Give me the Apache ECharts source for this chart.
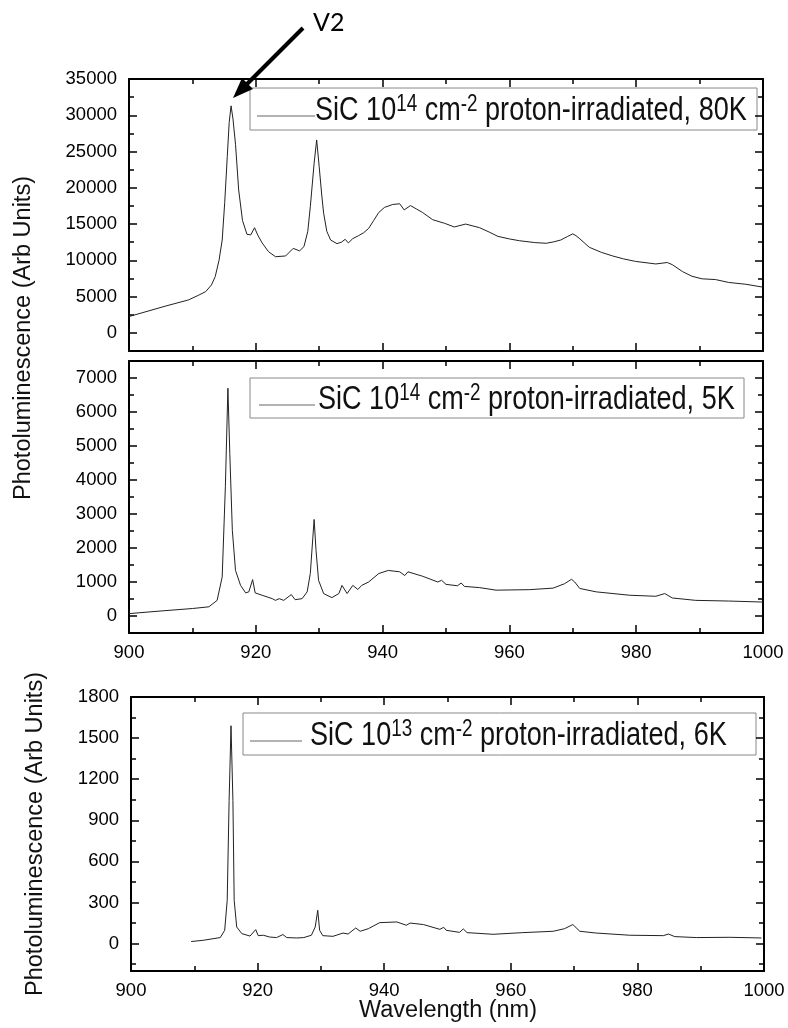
<!DOCTYPE html>
<html>
<head>
<meta charset="utf-8">
<script src="https://cdn.jsdelivr.net/npm/echarts@6/dist/echarts.min.js"></script>
<style>
  html, body { margin: 0; padding: 0; background: #fff; }
  #main { width: 788px; height: 1028px; }
</style>
</head>
<body>
<div id="main"></div>
<script>
// spectra: wavelength (nm) / PL intensity (arb. units)
var wl80K = [900, 903, 906, 909, 909.4, 911, 912.1, 913, 913.6, 914.2, 914.7, 915.1, 915.5, 915.8, 916.1, 916.4, 916.8, 917.3, 917.9, 918.6,
  919.2, 919.8, 920.3, 921, 922, 923.1, 924.7, 925.9, 926.9, 927.6, 928.2, 928.6, 929.2, 929.6, 930, 930.4, 930.7, 931.2, 931.8, 932.8,
  933.5, 934.1, 934.6, 935.3, 936.2, 937, 937.8, 938.6, 939.4, 940.3, 941.6, 942.7, 943.4, 944.4, 945.3, 946.3, 947.9, 949.8, 951.3, 953.1,
  955.3, 956.8, 958.2, 960, 961.6, 964, 965.8, 967, 968.1, 969.2, 970, 970.5, 971, 972.6, 974.5, 976.3, 978, 979.9, 983.1, 984.9,
  985.7, 987.3, 988.8, 990.4, 992.5, 994.6, 997.3, 1000];
var pl80K = [2250, 3000, 3750, 4450, 4550, 5200, 5690, 6600, 7760, 10000, 12800, 18000, 24300, 29000, 31300, 29500, 26000, 19700, 15500, 13600,
  13500, 14500, 13500, 12400, 11200, 10500, 10600, 11650, 11300, 11900, 14000, 17400, 23400, 26600, 22900, 19000, 16500, 14000, 12800, 12300,
  12500, 12900, 12400, 13000, 13400, 13800, 14400, 15500, 16600, 17300, 17700, 17800, 16950, 17550, 17100, 16600, 15600, 15100, 14600, 15000,
  14500, 13900, 13300, 12950, 12700, 12450, 12350, 12550, 12800, 13300, 13650, 13400, 13050, 11800, 11100, 10600, 10200, 9850, 9500, 9700,
  9400, 8450, 7800, 7450, 7350, 6950, 6700, 6300];

var wl5K = [900, 905.2, 910, 912.6, 913.9, 914.7, 915.2, 915.6, 915.9, 916.3, 916.8, 917.6, 918.4, 918.9, 919.5, 919.9, 921, 922.6, 923.1, 923.7,
  924.4, 925.6, 926.2, 927.3, 928.1, 928.6, 929, 929.2, 929.5, 929.9, 930.7, 932, 933.1, 933.6, 934.4, 935.3, 936.1, 936.7, 937.8, 939.4,
  940.9, 942.7, 943.5, 944, 946.3, 948.7, 949.3, 950, 951.8, 952.4, 952.9, 955.3, 957.9, 963.2, 966.9, 968.7, 969.8, 970.3, 971.1, 973.7,
  979, 983.1, 984.5, 985.7, 989.4, 994.6, 1000];
var pl5K = [70, 150, 220, 270, 460, 1150, 3800, 6700, 4780, 2520, 1340, 900, 680, 710, 1070, 680, 610, 510, 460, 510,
  460, 630, 480, 510, 710, 1250, 2320, 2840, 1930, 1050, 660, 540, 660, 900, 660, 900, 780, 900, 1000, 1250,
  1340, 1300, 1190, 1300, 1170, 1000, 1050, 930, 890, 970, 870, 835, 760, 775, 820, 950, 1080, 1000, 810, 710,
  610, 580, 660, 530, 460, 440, 410];

var wl6K = [909.5, 911.4, 914.1, 914.8, 915.2, 915.5, 915.8, 916.1, 916.3, 916.7, 917.5, 918.8, 919.7, 920.1, 920.9, 921.9, 923, 924, 924.6, 926.2,
  927.3, 928.5, 929.1, 929.5, 929.8, 930.3, 931.9, 933.5, 934.3, 935.5, 936.2, 937.5, 939.3, 942, 943.5, 944.1, 946.2, 948.8, 949.4, 949.8,
  951.9, 952.5, 953.1, 957.2, 961.9, 966.7, 968.5, 969.8, 970.9, 973.5, 978.8, 984.1, 984.9, 985.9, 989.3, 994.6, 999.6];
var pl6K = [15, 24, 44, 97, 316, 1046, 1590, 1046, 316, 121, 73, 55, 102, 58, 61, 48, 44, 66, 44, 41,
  44, 61, 121, 243, 97, 58, 53, 77, 70, 114, 90, 109, 153, 158, 134, 150, 139, 104, 119, 97,
  82, 107, 80, 68, 80, 90, 109, 139, 90, 77, 61, 58, 70, 51, 44, 46, 41];

var names = [
  'SiC 10^14 cm^-2 proton-irradiated, 80K',
  'SiC 10^14 cm^-2 proton-irradiated, 5K',
  'SiC 10^13 cm^-2 proton-irradiated, 6K'
];

// tick values
var yMajor80K = [0, 5000, 10000, 15000, 20000, 25000, 30000, 35000];
var yMinor80K = [2500, 7500, 12500, 17500, 22500, 27500, 32500];
var yMajor5K = [0, 1000, 2000, 3000, 4000, 5000, 6000, 7000];
var yMinor5K = [500, 1500, 2500, 3500, 4500, 5500, 6500];
var yMajor6K = [0, 300, 600, 900, 1200, 1500, 1800];
var yMinor6K = [-150, 150, 450, 750, 1050, 1350, 1650];

var yTitle = 'Photoluminescence (Arb Units)';
var xTitle = 'Wavelength (nm)';

var AX = '#000';
var SANS = '"Liberation Sans", Arial, sans-serif';
var LABEL_FONT = {
  fontFamily: 'Liberation Sans, Arial, sans-serif', fontSize: 18.5, color: '#000',
  formatter: function (v) { return String(v); }
};

function pairs(xs, ys) {
  return xs.map(function (x, i) { return [x, ys[i]]; });
}

function xAxisPair(grid, showLabels) {
  var common = {
    gridIndex: grid, type: 'value', min: 900, max: 1000, interval: 20,
    axisLine: { show: true, onZero: false, lineStyle: { color: AX, width: 2 } },
    axisTick: { show: true, inside: true, length: 8, lineStyle: { color: AX, width: 1.5 } },
    minorTick: { show: true, splitNumber: 2, length: 5, lineStyle: { color: AX, width: 1.5 } },
    splitLine: { show: false }
  };
  var bottom = Object.assign({}, common, {
    position: 'bottom',
    axisLabel: Object.assign({ show: showLabels, margin: 10 }, LABEL_FONT)
  });
  var top = Object.assign({}, common, { position: 'top', axisLabel: { show: false } });
  return [bottom, top];
}

function yAxisSet(grid, min, max, major, minor) {
  function ax(pos, vals, len, line, labels) {
    return {
      gridIndex: grid, type: 'value', min: min, max: max, position: pos,
      axisLine: { show: line, onZero: false, lineStyle: { color: AX, width: 2 } },
      axisTick: { show: true, inside: true, length: len, customValues: vals, lineStyle: { color: AX, width: 1.5 } },
      axisLabel: labels ? Object.assign({ show: true, margin: 12, customValues: vals }, LABEL_FONT) : { show: false },
      splitLine: { show: false }
    };
  }
  return [
    ax('left', major, 8, true, true),
    ax('left', minor, 5, false, false),
    ax('right', major, 8, true, false),
    ax('right', minor, 5, false, false)
  ];
}

// legend box in the Origin style: narrow tall text with superscripts
function legendBox(i, box, line, text) {
  var rich = names[i].replace(/\^(\S+)/g, '{s|$1}');
  return {
    type: 'group', x: box[0], y: box[1],
    children: [
      { type: 'rect', shape: { x: 0, y: 0, width: box[2], height: box[3] },
        style: { fill: '#fff', stroke: '#888', lineWidth: 1 } },
      { type: 'line', shape: { x1: line[0], y1: line[2], x2: line[1], y2: line[2] },
        style: { stroke: '#666', lineWidth: 1 } },
      { type: 'text', x: text[0], y: text[1], scaleX: 0.82,
        style: {
          text: rich, fontFamily: SANS, fontSize: 33, lineHeight: 36, fill: '#111',
          align: 'left', verticalAlign: 'middle',
          rich: { s: { fontFamily: SANS, fontSize: 23, lineHeight: 20, verticalAlign: 'top', fill: '#111' } }
        } }
    ]
  };
}

function lineSeries(i, xi, yi, wl, pl) {
  return {
    type: 'line', name: names[i], xAxisIndex: xi, yAxisIndex: yi,
    data: pairs(wl, pl),
    symbol: 'none', showSymbol: false,
    lineStyle: { color: '#222', width: 1 },
    itemStyle: { color: '#555' }
  };
}

var myChart = echarts.init(document.getElementById('main'), null, { renderer: 'canvas' });

var option = {
  backgroundColor: '#fff',
  animation: false,
  grid: [
    { left: 129, top: 79, width: 634, height: 272 },
    { left: 129, top: 361, width: 634, height: 272 },
    { left: 131, top: 697, width: 633, height: 274 }
  ],
  xAxis: [].concat(xAxisPair(0, false), xAxisPair(1, true), xAxisPair(2, true)),
  yAxis: [].concat(
    yAxisSet(0, -2500, 35000, yMajor80K, yMinor80K),
    yAxisSet(1, -500, 7500, yMajor5K, yMinor5K),
    yAxisSet(2, -200, 1800, yMajor6K, yMinor6K)
  ),
  series: [
    lineSeries(0, 0, 0, wl80K, pl80K),
    lineSeries(1, 2, 4, wl5K, pl5K),
    lineSeries(2, 4, 8, wl6K, pl6K)
  ],
  graphic: [
    legendBox(0, [250, 88, 507, 42], [7, 65, 28], [65, 23]),
    legendBox(1, [250, 378, 494, 40], [9, 65, 27], [68, 22]),
    legendBox(2, [243, 713, 513, 42], [7, 59, 28], [67, 23]),
    {
      type: 'text', x: 24, y: 338, rotation: Math.PI / 2,
      style: { text: yTitle, font: '23.5px ' + SANS, fill: '#111', align: 'center', verticalAlign: 'middle' }
    },
    {
      type: 'text', x: 36, y: 834, rotation: Math.PI / 2,
      style: { text: yTitle, font: '23.5px ' + SANS, fill: '#111', align: 'center', verticalAlign: 'middle' }
    },
    {
      type: 'text', x: 448, y: 1011,
      style: { text: xTitle, font: '23.5px ' + SANS, fill: '#111', align: 'center', verticalAlign: 'middle' }
    },
    {
      type: 'text', x: 313, y: 23,
      style: { text: 'V2', font: '25px Lato, "Open Sans", sans-serif', fill: '#000', align: 'left', verticalAlign: 'middle' }
    },
    {
      type: 'line', shape: { x1: 303, y1: 28, x2: 246, y2: 85 },
      style: { stroke: '#000', lineWidth: 4 }
    },
    {
      type: 'polygon', shape: { points: [[233, 98], [253, 89], [242, 78]] },
      style: { fill: '#000' }
    }
  ]
};

if (option && typeof option === 'object') {
  myChart.setOption(option);
}
</script>
</body>
</html>
